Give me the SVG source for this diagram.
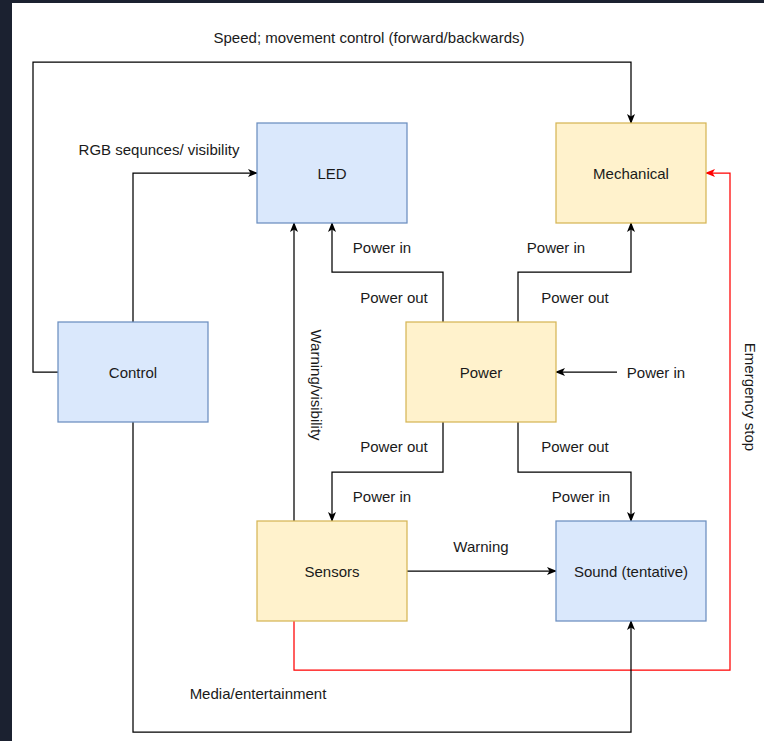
<svg xmlns="http://www.w3.org/2000/svg" width="764" height="741" viewBox="0 0 764 741">
<defs>
<marker id="ab" viewBox="0 0 10 10" refX="9" refY="5" markerWidth="10" markerHeight="10" markerUnits="userSpaceOnUse" orient="auto">
<path d="M0,1 L10,5 L0,9 L2.5,5 Z" fill="#000"/>
</marker>
<marker id="ar" viewBox="0 0 10 10" refX="9" refY="5" markerWidth="10" markerHeight="10" markerUnits="userSpaceOnUse" orient="auto">
<path d="M0,1 L10,5 L0,9 L2.5,5 Z" fill="#ff0000"/>
</marker>
<style>
.blue{fill:#dae8fc;stroke:#6c8ebf;stroke-width:1.25}
.yel{fill:#fff2cc;stroke:#d6b656;stroke-width:1.25}
.c{fill:none;stroke:#000;stroke-width:1.25;marker-end:url(#ab)}
.r{fill:none;stroke:#ff0000;stroke-width:1.25;marker-end:url(#ar)}
text{font-family:"Liberation Sans",Arial,sans-serif;font-size:15px;fill:#1a1a1a;text-anchor:middle;dominant-baseline:central}
</style>
</defs>
<rect x="0" y="0" width="764" height="741" fill="#ffffff"/>
<rect x="0" y="0" width="764" height="3" fill="#1b2130"/>
<rect x="0" y="0" width="12" height="741" fill="#1b2130"/>
<g id="connectors">
<path class="c" d="M58,372 H33 V62 H631 V123"/>
<path class="c" d="M133,322 V173 H257"/>
<path class="c" d="M443,322 V272 H332 V223"/>
<path class="c" d="M518,322 V272 H631 V223"/>
<path class="c" d="M617,372 H556"/>
<path class="c" d="M443,422 V472 H332 V521"/>
<path class="c" d="M518,422 V472 H631 V521"/>
<path class="c" d="M294,521 V223"/>
<path class="c" d="M407,571 H556"/>
<path class="r" d="M294,621 V670 H730 V173 H706"/>
<path class="c" d="M133,422 V732 H631 V621"/>
<text x="369" y="37">Speed; movement control (forward/backwards)</text>
<text x="159" y="149">RGB sequnces/ visibility</text>
<text x="382" y="247">Power in</text>
<text x="394" y="297">Power out</text>
<text x="556" y="247">Power in</text>
<text x="575" y="297">Power out</text>
<text x="656" y="372">Power in</text>
<text x="394" y="446">Power out</text>
<text x="575" y="446">Power out</text>
<text x="382" y="496">Power in</text>
<text x="581" y="496">Power in</text>
<text x="481" y="546">Warning</text>
<text x="258" y="693">Media/entertainment</text>
<text transform="translate(316,385) rotate(90)">Warning/visibility</text>
<text transform="translate(750,397) rotate(90)">Emergency stop</text>
</g>
<g id="led"><rect class="blue" x="257" y="123" width="150" height="100"/><text x="332" y="173">LED</text></g>
<g id="mechanical"><rect class="yel" x="556" y="123" width="150" height="100"/><text x="631" y="173">Mechanical</text></g>
<g id="control"><rect class="blue" x="58" y="322" width="150" height="100"/><text x="133" y="372">Control</text></g>
<g id="power"><rect class="yel" x="406" y="322" width="150" height="100"/><text x="481" y="372">Power</text></g>
<g id="sensors"><rect class="yel" x="257" y="521" width="150" height="100"/><text x="332" y="571">Sensors</text></g>
<g id="sound"><rect class="blue" x="556" y="521" width="150" height="100"/><text x="631" y="571">Sound (tentative)</text></g>
</svg>
